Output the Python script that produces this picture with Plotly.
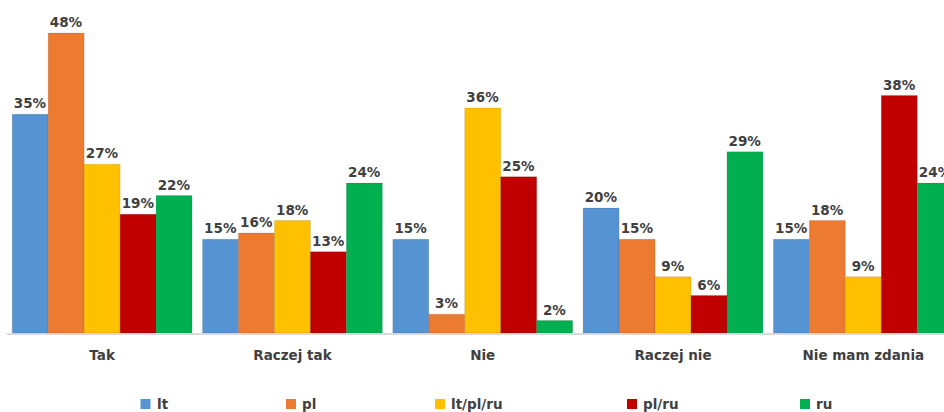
import plotly.graph_objects as go

categories = ["Tak", "Raczej tak", "Nie", "Raczej nie", "Nie mam zdania"]
series_names = ["lt", "pl", "lt/pl/ru", "pl/ru", "ru"]
lt = [35, 15, 15, 20, 15]
pl = [48, 16, 3, 15, 18]
lt_pl_ru = [27, 18, 36, 9, 9]
pl_ru = [19, 13, 25, 6, 38]
ru = [22, 24, 2, 29, 24]

values = [lt, pl, lt_pl_ru, pl_ru, ru]
colors = ["#5693D2", "#EC7A30", "#FFC000", "#C00000", "#00B050"]

text_color = "#404040"
font_family = "DejaVu Sans"

W, H = 944, 412
ML, MR, MT, MB = 7, 0, 0, 79

fig = go.Figure()
for name, vals, col in zip(series_names, values, colors):
    fig.add_trace(go.Bar(
        x=categories,
        y=vals,
        name=name,
        marker=dict(color=col, line=dict(color="rgba(0,0,0,0.10)", width=1)),
        text=[f"<b>{v}%</b>" for v in vals],
        textposition="outside",
        textfont=dict(family=font_family, size=13.5, color=text_color),
        cliponaxis=False,
        showlegend=False,
    ))

# legend row along the bottom: small colour square followed by the series name
legend_square_centers = [145.5, 291, 440, 632, 805]
plot_w = W - ML - MR
plot_h = H - MT - MB
legend_y_px = 404
sq = 10


def px_to_paper_x(px):
    return (px - ML) / plot_w


def px_to_paper_y(py):
    return (H - MB - py) / plot_h


for name, col, cx in zip(series_names, colors, legend_square_centers):
    fig.add_shape(
        type="rect", xref="paper", yref="paper",
        x0=px_to_paper_x(cx - sq / 2), x1=px_to_paper_x(cx + sq / 2),
        y0=px_to_paper_y(legend_y_px + sq / 2), y1=px_to_paper_y(legend_y_px - sq / 2),
        fillcolor=col, line=dict(width=0),
    )
    fig.add_annotation(
        xref="paper", yref="paper",
        x=px_to_paper_x(cx + sq / 2 + 4), y=px_to_paper_y(legend_y_px),
        xanchor="left", yanchor="middle",
        text=f"<b>{name}</b>", showarrow=False,
        font=dict(family=font_family, size=13.5, color=text_color),
    )

fig.update_layout(
    width=W,
    height=H,
    barmode="group",
    bargap=0.055,
    bargroupgap=0,
    plot_bgcolor="white",
    paper_bgcolor="white",
    margin=dict(l=ML, r=MR, t=MT, b=MB, autoexpand=False),
    font=dict(family=font_family, size=13.5, color=text_color),
    xaxis=dict(
        range=[-0.5, 4.424],
        showline=True,
        linecolor="#D9D9D9",
        linewidth=2,
        ticks="",
        tickfont=dict(family=font_family, size=13.5, color=text_color),
        ticklabelstandoff=9,
        tickvals=categories,
        ticktext=[f"<b>{c}</b>" for c in categories],
    ),
    yaxis=dict(range=[0, 53.3], visible=False),
    showlegend=False,
)

fig.write_html("out.html")
